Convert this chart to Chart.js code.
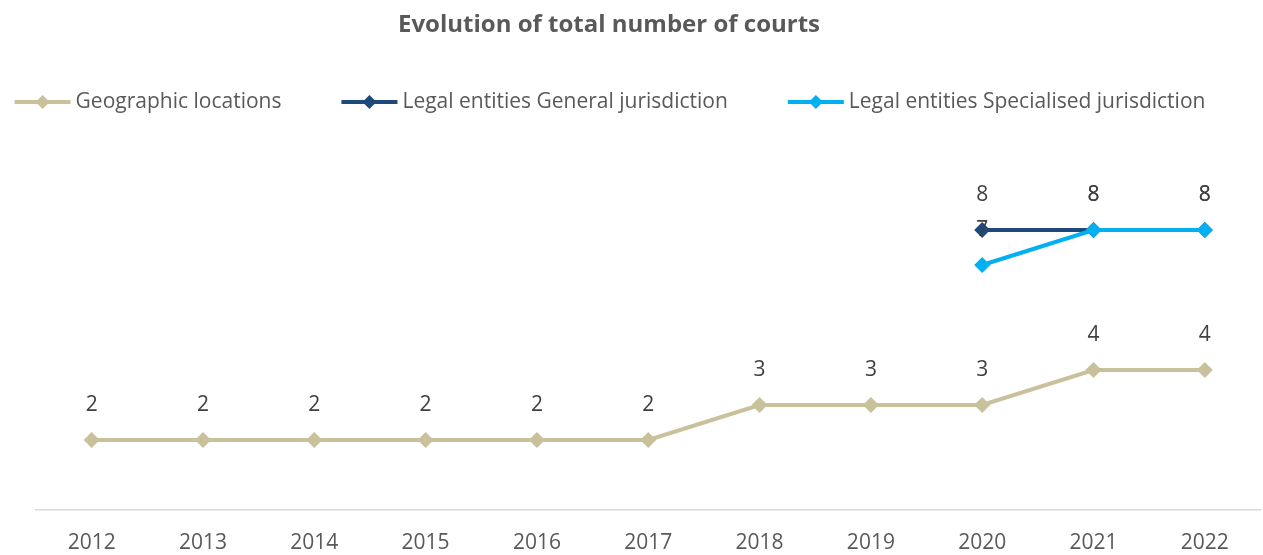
<!DOCTYPE html>
<html>
<head>
<meta charset="utf-8">
<script src="https://cdn.jsdelivr.net/npm/chart.js@4.4.1/dist/chart.umd.min.js"></script>
<style>
  html, body { margin:0; padding:0; background:#fff; overflow:hidden; }
  #wrap { width:1263px; height:555px; }
  canvas { display:block; }
</style>
</head>
<body>
<div id="wrap"><canvas id="c" width="1263" height="555"></canvas></div>
<script>
// chart values
var years = ['2012','2013','2014','2015','2016','2017','2018','2019','2020','2021','2022'];
var geographic = [2,2,2,2,2,2,3,3,3,4,4];
var generalJur = [null,null,null,null,null,null,null,null,8,8,8];
var specialJur = [null,null,null,null,null,null,null,null,7,8,8];

var chartTitle = 'Evolution of total number of courts';
var seriesNames = ['Geographic locations','Legal entities General jurisdiction','Legal entities Specialised jurisdiction'];
var seriesColors = ['#c9c19b','#1f497d','#00b0f0'];

var FONT = '"Open Sans", sans-serif';
var TXT = '#595959';

function ds(i, data){
    return {
        label: seriesNames[i],
        data: data,
        order: 2 - i,
        borderColor: seriesColors[i],
        backgroundColor: seriesColors[i],
        borderWidth: 4,
        pointStyle: 'rectRot',
        pointRadius: 8,
        pointHoverRadius: 8,
        pointBorderWidth: 0,
        tension: 0,
        spanGaps: false
    };
}

// title + legend drawn by hand (line with diamond swatch)
var headerPlugin = {
    id: 'header',
    afterDraw: function(chart){
        var ctx = chart.ctx;
        ctx.save();
        ctx.fillStyle = TXT;
        ctx.textBaseline = 'middle';
        ctx.textAlign = 'center';
        ctx.font = 'bold 24px ' + FONT;
        ctx.fillText(chartTitle, 609, 25);

        ctx.font = '21px ' + FONT;
        ctx.textAlign = 'left';
        var sw = 56, gap = 5, between = 60;
        var widths = seriesNames.map(function(n){ return ctx.measureText(n).width; });
        var total = 0;
        widths.forEach(function(w, i){ total += sw + gap + w + (i ? between : 0); });
        var x = 610 - total / 2, y = 102;
        seriesNames.forEach(function(n, i){
            ctx.strokeStyle = seriesColors[i];
            ctx.fillStyle = seriesColors[i];
            ctx.lineWidth = 4;
            ctx.beginPath(); ctx.moveTo(x, y); ctx.lineTo(x + sw, y); ctx.stroke();
            var cx = x + sw / 2;
            ctx.beginPath();
            ctx.moveTo(cx, y - 7); ctx.lineTo(cx + 7, y); ctx.lineTo(cx, y + 7); ctx.lineTo(cx - 7, y);
            ctx.closePath(); ctx.fill();
            ctx.fillStyle = TXT;
            ctx.fillText(n, x + sw + gap, y);
            x += sw + gap + widths[i] + between;
        });
        ctx.restore();
    }
};

// value labels above every point
var labelPlugin = {
    id: 'vlabels',
    afterDatasetsDraw: function(chart){
        var ctx = chart.ctx;
        ctx.save();
        ctx.font = '21px ' + FONT;
        ctx.fillStyle = '#404040';
        ctx.textAlign = 'center';
        ctx.textBaseline = 'middle';
        chart.data.datasets.forEach(function(d, i){
            var meta = chart.getDatasetMeta(i);
            meta.data.forEach(function(p, j){
                if (d.data[j] == null) return;
                ctx.fillText(String(d.data[j]), p.x, p.y - 35);
            });
        });
        ctx.restore();
    }
};

new Chart(document.getElementById('c'), {
    type: 'line',
    data: {
        labels: years,
        datasets: [ds(0, geographic), ds(1, generalJur), ds(2, specialJur)]
    },
    options: {
        responsive: false,
        animation: false,
        events: [],
        layout: { autoPadding: false, padding: { top: 160, left: 36, right: 2.5, bottom: 0 } },
        plugins: {
            legend: { display: false },
            title: { display: false },
            tooltip: { enabled: false }
        },
        scales: {
            x: {
                offset: true,
                grid: { display: false, drawTicks: false },
                border: { display: true, color: '#d9d9d9', width: 1.5 },
                ticks: { color: TXT, font: { family: FONT, size: 21 }, padding: 20, maxRotation: 0 },
                afterFit: function(s){ s.height = 45; s.paddingLeft = 0; s.paddingRight = 0; }
            },
            y: {
                display: false,
                min: 0,
                max: 10
            }
        }
    },
    plugins: [headerPlugin, labelPlugin]
});
</script>
</body>
</html>
